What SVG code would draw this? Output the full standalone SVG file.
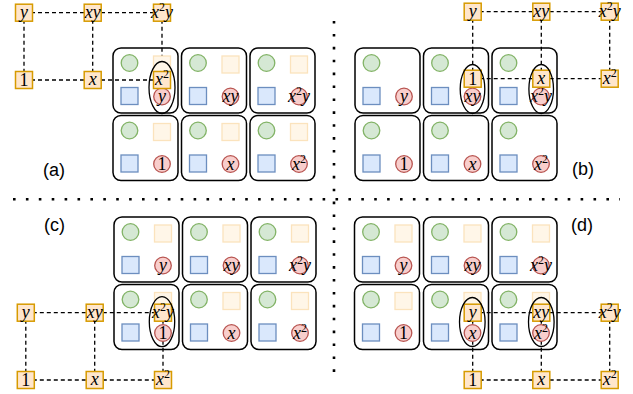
<svg xmlns="http://www.w3.org/2000/svg" xmlns:xlink="http://www.w3.org/1999/xlink" width="633" height="394" viewBox="0 0 633 394">
<style>
.cell{fill:none;stroke:#000;stroke-width:1.5}
.g{fill:#d5e8d4;stroke:#82b366;stroke-width:1.3}
.f{fill:#fff6e8;stroke:#fbe3bd;stroke-width:1.3}
.b{fill:#dae8fc;stroke:#6c8ebf;stroke-width:1.3}
.r{fill:#f8cecc;stroke:#b85450;stroke-width:1.3}
.o{fill:#ffe6cc;stroke:#d79b00;stroke-width:1.5}
.m{font-family:"Liberation Serif","DejaVu Serif",serif;font-style:italic;font-size:18px;text-anchor:middle;fill:#000}
.n{font-style:normal}
.s{font-style:normal;font-size:12px}
.e{fill:none;stroke:#000;stroke-width:1.3}
.d{fill:none;stroke:#000;stroke-width:1.3;stroke-dasharray:4 3}
.dot{fill:none;stroke:#000;stroke-width:2.6;stroke-dasharray:2.6 10.3}
.lab{font-family:"Liberation Sans",Arial,sans-serif;font-size:18px;text-anchor:middle;fill:#000}
</style>
<defs>
<g id="cellF">
<rect class="cell" x="0" y="0" width="65" height="65" rx="8"/>
<circle class="g" cx="16.5" cy="15" r="8.3"/>
<rect class="f" x="40.5" y="8" width="17" height="17"/>
<rect class="b" x="8" y="39.5" width="17" height="17"/>
<circle class="r" cx="49" cy="48.5" r="8.3"/>
</g>
<g id="cellN">
<rect class="cell" x="0" y="0" width="65" height="65" rx="8"/>
<circle class="g" cx="16.5" cy="15" r="8.3"/>
<rect class="b" x="8" y="39.5" width="17" height="17"/>
<circle class="r" cx="49" cy="48.5" r="8.3"/>
</g>
</defs>

<!-- separators -->
<g id="separators">
<line class="dot" x1="13" y1="199.3" x2="620" y2="199.3"/>
<line class="dot" x1="334" y1="21" x2="334" y2="378"/>
</g>

<!-- connectors -->
<g id="connectors">
<path class="d" d="M24,12.7H162M24,80H162M24,12.7V80M92.7,12.7V80M162,12.7V80"/>
<path class="d" d="M472.7,11.7H609.7M472.7,78.7H609.7M472.7,11.7V78.7M541.3,11.7V78.7M609.7,11.7V78.7"/>
<path class="d" d="M25.8,312.7H163M25.8,380H163M25.8,312.7V380M94.7,312.7V380M163,312.7V380"/>
<path class="d" d="M472.7,312.7H609.7M472.7,380H609.7M472.7,312.7V380M541.3,312.7V380M609.7,312.7V380"/>
</g>

<!-- panel (a) cells -->
<g id="a-c1" transform="translate(113,48)"><use xlink:href="#cellF"/><text class="m" x="49" y="54">y</text></g>
<g id="a-c2" transform="translate(181.5,48)"><use xlink:href="#cellF"/><text class="m" x="49" y="54">xy</text></g>
<g id="a-c3" transform="translate(250,48)"><use xlink:href="#cellF"/><text class="m" x="49" y="54">x<tspan class="s" dy="-7">2</tspan><tspan dy="7">y</tspan></text></g>
<g id="a-c4" transform="translate(113,115.5)"><use xlink:href="#cellF"/><text class="m n" x="49" y="54.5">1</text></g>
<g id="a-c5" transform="translate(181.5,115.5)"><use xlink:href="#cellF"/><text class="m" x="49" y="54">x</text></g>
<g id="a-c6" transform="translate(250,115.5)"><use xlink:href="#cellF"/><text class="m" x="49" y="54">x<tspan class="s" dy="-7">2</tspan></text></g>

<!-- panel (b) cells -->
<g id="b-c1" transform="translate(355,48)"><use xlink:href="#cellN"/><text class="m" x="49" y="54">y</text></g>
<g id="b-c2" transform="translate(423.5,48)"><use xlink:href="#cellN"/><text class="m" x="49" y="54">xy</text></g>
<g id="b-c3" transform="translate(492,48)"><use xlink:href="#cellN"/><text class="m" x="49" y="54">x<tspan class="s" dy="-7">2</tspan><tspan dy="7">y</tspan></text></g>
<g id="b-c4" transform="translate(355,115.5)"><use xlink:href="#cellN"/><text class="m n" x="49" y="54.5">1</text></g>
<g id="b-c5" transform="translate(423.5,115.5)"><use xlink:href="#cellN"/><text class="m" x="49" y="54">x</text></g>
<g id="b-c6" transform="translate(492,115.5)"><use xlink:href="#cellN"/><text class="m" x="49" y="54">x<tspan class="s" dy="-7">2</tspan></text></g>

<!-- panel (c) cells -->
<g id="c-c1" transform="translate(114,217)"><use xlink:href="#cellF"/><text class="m" x="49" y="54">y</text></g>
<g id="c-c2" transform="translate(182.5,217)"><use xlink:href="#cellF"/><text class="m" x="49" y="54">xy</text></g>
<g id="c-c3" transform="translate(251,217)"><use xlink:href="#cellF"/><text class="m" x="49" y="54">x<tspan class="s" dy="-7">2</tspan><tspan dy="7">y</tspan></text></g>
<g id="c-c4" transform="translate(114,284.5)"><use xlink:href="#cellF"/><text class="m n" x="49" y="54.5">1</text></g>
<g id="c-c5" transform="translate(182.5,284.5)"><use xlink:href="#cellF"/><text class="m" x="49" y="54">x</text></g>
<g id="c-c6" transform="translate(251,284.5)"><use xlink:href="#cellF"/><text class="m" x="49" y="54">x<tspan class="s" dy="-7">2</tspan></text></g>

<!-- panel (d) cells -->
<g id="d-c1" transform="translate(354.5,217)"><use xlink:href="#cellF"/><text class="m" x="49" y="54">y</text></g>
<g id="d-c2" transform="translate(423.5,217)"><use xlink:href="#cellF"/><text class="m" x="49" y="54">xy</text></g>
<g id="d-c3" transform="translate(492,217)"><use xlink:href="#cellF"/><text class="m" x="49" y="54">x<tspan class="s" dy="-7">2</tspan><tspan dy="7">y</tspan></text></g>
<g id="d-c4" transform="translate(354.5,284.5)"><use xlink:href="#cellF"/><text class="m n" x="49" y="54.5">1</text></g>
<g id="d-c5" transform="translate(423.5,284.5)"><use xlink:href="#cellF"/><text class="m" x="49" y="54">x</text></g>
<g id="d-c6" transform="translate(492,284.5)"><use xlink:href="#cellF"/><text class="m" x="49" y="54">x<tspan class="s" dy="-7">2</tspan></text></g>

<!-- orange lattice nodes (a) -->
<g id="a-o-y" transform="translate(24,12.7)"><rect class="o" x="-8.5" y="-8.5" width="17" height="17"/><text class="m" y="5">y</text></g>
<g id="a-o-xy" transform="translate(92.7,12.7)"><rect class="o" x="-8.5" y="-8.5" width="17" height="17"/><text class="m" y="5">xy</text></g>
<g id="a-o-x2y" transform="translate(162,12.7)"><rect class="o" x="-8.5" y="-8.5" width="17" height="17"/><text class="m" y="5">x<tspan class="s" dy="-7">2</tspan><tspan dy="7">y</tspan></text></g>
<g id="a-o-1" transform="translate(24,80)"><rect class="o" x="-8.5" y="-8.5" width="17" height="17"/><text class="m n" y="6">1</text></g>
<g id="a-o-x" transform="translate(92.7,80)"><rect class="o" x="-8.5" y="-8.5" width="17" height="17"/><text class="m" y="5">x</text></g>
<g id="a-o-x2" transform="translate(162,80)"><rect class="o" x="-8.5" y="-8.5" width="17" height="17"/><text class="m" y="5">x<tspan class="s" dy="-7">2</tspan></text></g>

<!-- orange lattice nodes (b) -->
<g id="b-o-y" transform="translate(472.7,11.7)"><rect class="o" x="-8.5" y="-8.5" width="17" height="17"/><text class="m" y="5">y</text></g>
<g id="b-o-xy" transform="translate(541.3,11.7)"><rect class="o" x="-8.5" y="-8.5" width="17" height="17"/><text class="m" y="5">xy</text></g>
<g id="b-o-x2y" transform="translate(609.7,11.7)"><rect class="o" x="-8.5" y="-8.5" width="17" height="17"/><text class="m" y="5">x<tspan class="s" dy="-7">2</tspan><tspan dy="7">y</tspan></text></g>
<g id="b-o-1" transform="translate(472.7,78.7)"><rect class="o" x="-8.5" y="-8.5" width="17" height="17"/><text class="m n" y="6">1</text></g>
<g id="b-o-x" transform="translate(541.3,78.7)"><rect class="o" x="-8.5" y="-8.5" width="17" height="17"/><text class="m" y="5">x</text></g>
<g id="b-o-x2" transform="translate(609.7,78.7)"><rect class="o" x="-8.5" y="-8.5" width="17" height="17"/><text class="m" y="5">x<tspan class="s" dy="-7">2</tspan></text></g>

<!-- orange lattice nodes (c) -->
<g id="c-o-y" transform="translate(25.8,312.7)"><rect class="o" x="-8.5" y="-8.5" width="17" height="17"/><text class="m" y="5">y</text></g>
<g id="c-o-xy" transform="translate(94.7,312.7)"><rect class="o" x="-8.5" y="-8.5" width="17" height="17"/><text class="m" y="5">xy</text></g>
<g id="c-o-x2y" transform="translate(163,312.7)"><rect class="o" x="-8.5" y="-8.5" width="17" height="17"/><text class="m" y="5">x<tspan class="s" dy="-7">2</tspan><tspan dy="7">y</tspan></text></g>
<g id="c-o-1" transform="translate(25.8,380)"><rect class="o" x="-8.5" y="-8.5" width="17" height="17"/><text class="m n" y="6">1</text></g>
<g id="c-o-x" transform="translate(94.7,380)"><rect class="o" x="-8.5" y="-8.5" width="17" height="17"/><text class="m" y="5">x</text></g>
<g id="c-o-x2" transform="translate(163,380)"><rect class="o" x="-8.5" y="-8.5" width="17" height="17"/><text class="m" y="5">x<tspan class="s" dy="-7">2</tspan></text></g>

<!-- orange lattice nodes (d) -->
<g id="d-o-y" transform="translate(472.7,312.7)"><rect class="o" x="-8.5" y="-8.5" width="17" height="17"/><text class="m" y="5">y</text></g>
<g id="d-o-xy" transform="translate(541.3,312.7)"><rect class="o" x="-8.5" y="-8.5" width="17" height="17"/><text class="m" y="5">xy</text></g>
<g id="d-o-x2y" transform="translate(609.7,312.7)"><rect class="o" x="-8.5" y="-8.5" width="17" height="17"/><text class="m" y="5">x<tspan class="s" dy="-7">2</tspan><tspan dy="7">y</tspan></text></g>
<g id="d-o-1" transform="translate(472.7,380)"><rect class="o" x="-8.5" y="-8.5" width="17" height="17"/><text class="m n" y="6">1</text></g>
<g id="d-o-x" transform="translate(541.3,380)"><rect class="o" x="-8.5" y="-8.5" width="17" height="17"/><text class="m" y="5">x</text></g>
<g id="d-o-x2" transform="translate(609.7,380)"><rect class="o" x="-8.5" y="-8.5" width="17" height="17"/><text class="m" y="5">x<tspan class="s" dy="-7">2</tspan></text></g>

<!-- ellipses -->
<g id="ellipses">
<ellipse class="e" cx="162" cy="87.5" rx="13" ry="26"/>
<ellipse class="e" cx="472.5" cy="89" rx="12.3" ry="24.5"/>
<ellipse class="e" cx="541.2" cy="89" rx="12.3" ry="24.5"/>
<ellipse class="e" cx="162" cy="321.7" rx="12.7" ry="25"/>
<ellipse class="e" cx="472.3" cy="322" rx="12.8" ry="24.5"/>
<ellipse class="e" cx="541.3" cy="322" rx="12.8" ry="24.5"/>
</g>

<!-- panel labels -->
<g id="labels">
<text class="lab" x="54" y="176">(a)</text>
<text class="lab" x="583" y="174.5">(b)</text>
<text class="lab" x="54.5" y="231">(c)</text>
<text class="lab" x="582" y="231">(d)</text>
</g>
</svg>
